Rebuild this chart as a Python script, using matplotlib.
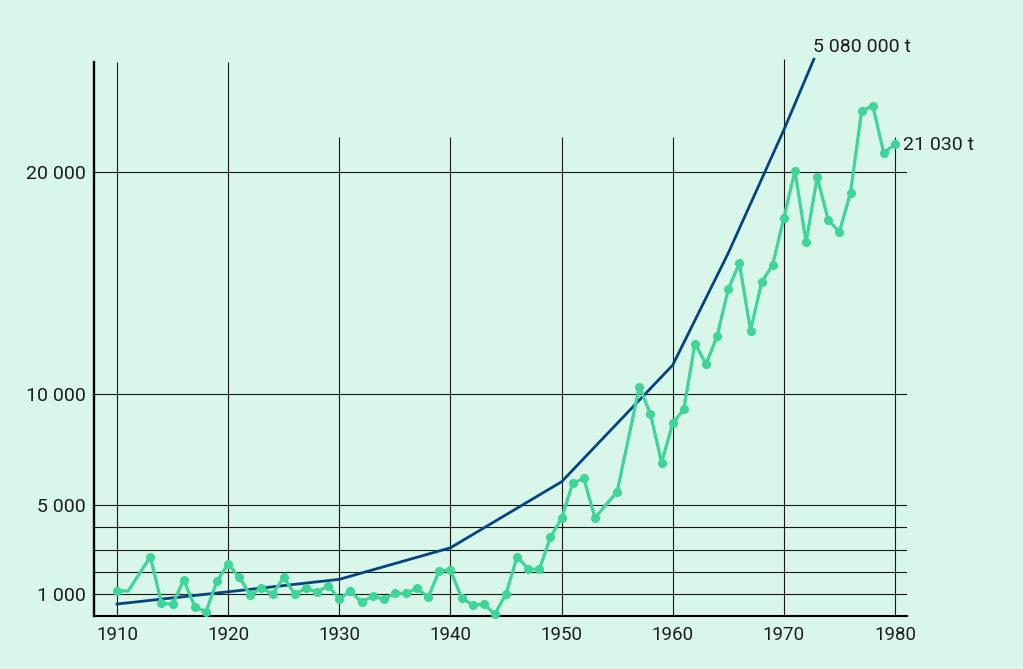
import matplotlib.pyplot as plt

# catch per year (t), green series
years = [1910, 1911, 1913, 1914, 1915, 1916, 1917, 1918, 1919, 1920,
         1921, 1922, 1923, 1924, 1925, 1926, 1927, 1928, 1929, 1930,
         1931, 1932, 1933, 1934, 1935, 1936, 1937, 1938, 1939, 1940,
         1941, 1942, 1943, 1944, 1945, 1946, 1947, 1948, 1949, 1950,
         1951, 1952, 1953, 1955, 1957, 1958, 1959, 1960,
         1961, 1962, 1963, 1964, 1965, 1966, 1967, 1968, 1969, 1970,
         1971, 1972, 1973, 1974, 1975, 1976, 1977, 1978, 1979, 1980]
catch = [1150, 1130, 2680, 580, 540, 1630, 430, 200, 1590, 2350,
         1750, 960, 1280, 1000, 1750, 1000, 1260, 1090, 1360, 790,
         1130, 630, 910, 760, 1030, 1030, 1260, 850, 2050, 2080,
         830, 500, 540, 100, 1000, 2680, 2120, 2120, 3550, 4410,
         5980, 6200, 4430, 5600, 10330, 9090, 6910, 8680,
         9320, 12270, 11340, 12610, 14720, 15880, 12850, 15020, 15820, 17930,
         20040, 16820, 19760, 17810, 17300, 19060, 22740, 22960, 20830, 21250]

# production curve, blue series (plotted on the same scale)
prod_years = [1910, 1920, 1930, 1940, 1950, 1960, 1965, 1970, 1972.7]
prod = [550, 1100, 1660, 3080, 6050, 11300, 16340, 21880, 25060]

x_ticks = [1910, 1920, 1930, 1940, 1950, 1960, 1970, 1980]
y_ticks = [1000, 5000, 10000, 20000]
y_tick_labels = ['1 000', '5 000', '10 000', '20 000']
grid_rows = [1000, 2000, 3000, 4000, 5000, 10000, 20000]

plt.rcParams['font.family'] = ['Roboto', 'DejaVu Sans']
bg = '#d8f6e9'
green = '#3dd598'
blue = '#03467f'
ink = '#1e1e1e'

fig = plt.figure(figsize=(10.23, 6.69), dpi=100, facecolor=bg)
ax = fig.add_axes([0.0919, 0.0792, 0.7947, 0.8326], facecolor=bg)
ax.set_xlim(1907.93, 1981.08)
ax.set_ylim(10, 25070)

for v in grid_rows:
    ax.axhline(v, color='#1a1a1a', lw=0.8, zorder=1)
grid_tops = [24936, 24936, 21562, 21562, 21562, 21562, 25070, 21562]
ax.vlines(x_ticks, 10, grid_tops, color='#1a1a1a', lw=0.8, zorder=1)

ax.plot(prod_years, prod, color=blue, lw=2.0, zorder=3, clip_on=False)
# 1911 has no dot in the original
marks = [i for i in range(len(years)) if years[i] != 1911]
ax.plot(years, catch, color=green, lw=2.3, marker='o', markersize=5.5,
        markevery=marks, zorder=4, clip_on=False)

ax.annotate('5 080 000 t', xy=(prod_years[-1], prod[-1]), xytext=(-0.5, 9),
            textcoords='offset points', ha='left', va='center',
            fontsize=14, color=ink, annotation_clip=False)
ax.annotate('21 030 t', xy=(years[-1], catch[-1]), xytext=(5.5, -0.7),
            textcoords='offset points', ha='left', va='center',
            fontsize=14, color=ink, annotation_clip=False)

ax.set_xticks(x_ticks)
ax.set_yticks(y_ticks)
ax.set_yticklabels(y_tick_labels)
ax.tick_params(length=0, labelsize=14, labelcolor=ink)
ax.tick_params(axis='x', pad=7, labelsize=13.5)
ax.tick_params(axis='y', pad=6)

ax.spines['top'].set_visible(False)
ax.spines['right'].set_visible(False)
ax.spines['left'].set_linewidth(1.7)
ax.spines['left'].set_bounds(10, 24936)
ax.spines['bottom'].set_linewidth(1.5)

fig.savefig('out.png', dpi=100, facecolor=bg)
